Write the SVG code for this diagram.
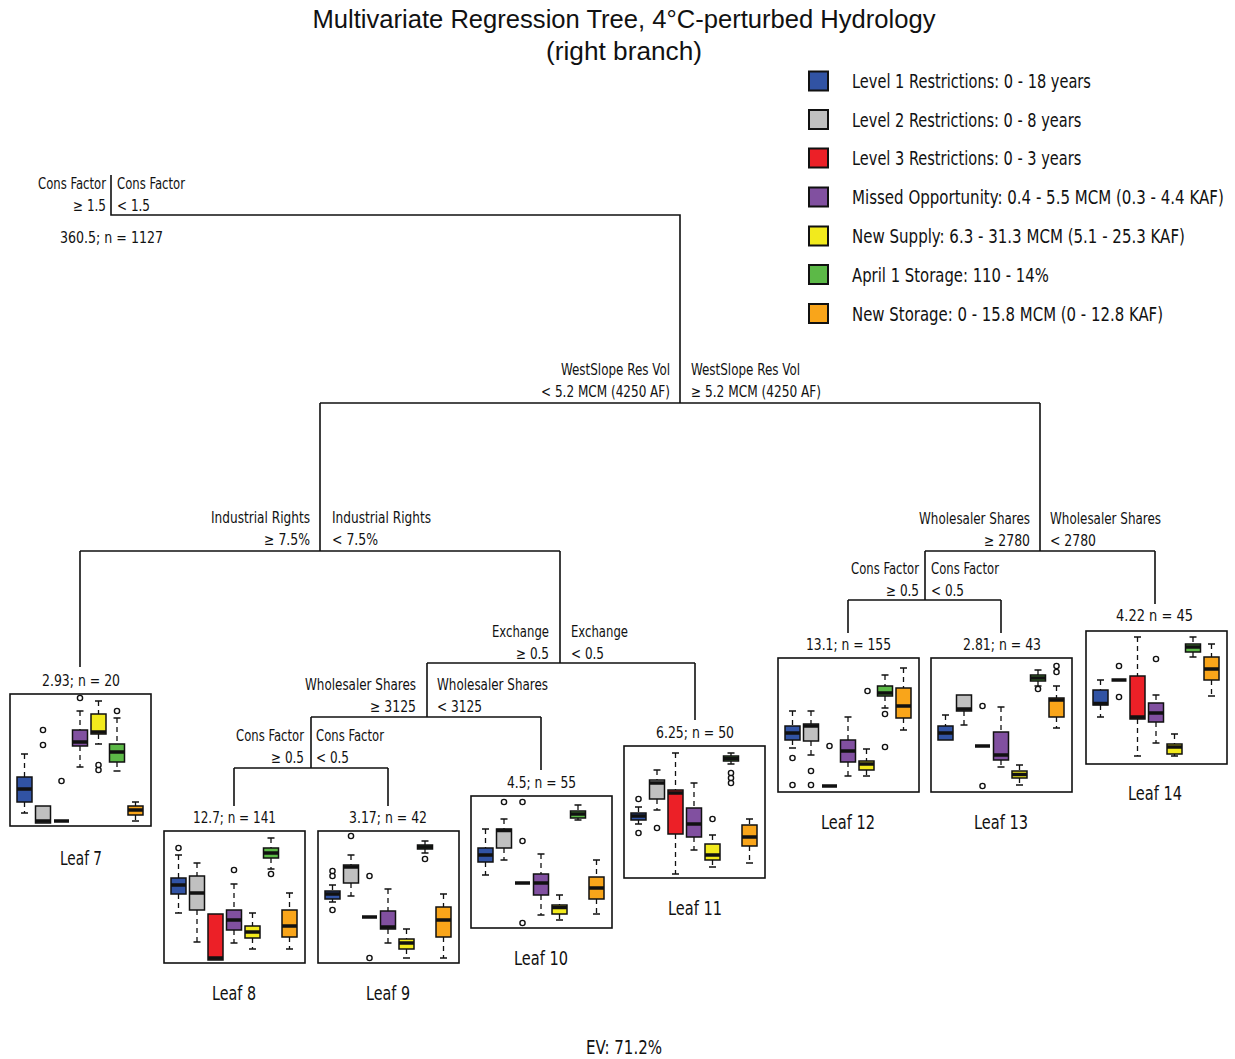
<svg xmlns="http://www.w3.org/2000/svg" width="1235" height="1059" viewBox="0 0 1235 1059">
<style>
text{font-family:"Liberation Sans Narrow","DejaVu Sans Condensed","Liberation Sans",sans-serif;fill:#111}
.ti{font-family:"Liberation Sans",sans-serif;font-size:25px;text-anchor:middle}
.lab{font-size:15.5px}
.r{text-anchor:end}
.c{text-anchor:middle}
.lg{font-size:20px}
.lf{font-size:19px;text-anchor:middle}
.con{fill:none;stroke:#111;stroke-width:1.6}
.fr{fill:#fff;stroke:#111;stroke-width:1.6}
.w{fill:none;stroke:#111;stroke-width:1.3;stroke-dasharray:5 4}
.cp{fill:none;stroke:#111;stroke-width:1.5}
.b{stroke:#111;stroke-width:1.5}
.m{stroke:#111;stroke-width:3.5}
.o{fill:none;stroke:#111;stroke-width:1.4}
.sq{stroke:#111;stroke-width:2}
.L1{fill:#3153a4}.L2{fill:#c0c0c0}.L3{fill:#ec2027}.MO{fill:#8150a0}.NS{fill:#f2ea1d}.AS{fill:#5cb947}.ST{fill:#f9a51a}
</style>
<defs>
<circle id="o" r="2.6" class="o"/>
</defs>
<rect width="1235" height="1059" fill="#fff"/>
<g id="title">
<text class="ti" x="624" y="28" textLength="623" lengthAdjust="spacingAndGlyphs">Multivariate Regression Tree, 4°C-perturbed Hydrology</text>
<text class="ti" x="624" y="60" textLength="156" lengthAdjust="spacingAndGlyphs">(right branch)</text>
</g>
<g id="legend">
<rect class="sq L1" x="809" y="71.5" width="19" height="19"/><text class="lg" transform="translate(852,88) scale(0.81,1)" textLength="295" lengthAdjust="spacingAndGlyphs">Level 1 Restrictions: 0 - 18 years</text>
<rect class="sq L2" x="809" y="110" width="19" height="19"/><text class="lg" transform="translate(852,126.5) scale(0.81,1)" textLength="283" lengthAdjust="spacingAndGlyphs">Level 2 Restrictions: 0 - 8 years</text>
<rect class="sq L3" x="809" y="148.5" width="19" height="19"/><text class="lg" transform="translate(852,165) scale(0.81,1)" textLength="283" lengthAdjust="spacingAndGlyphs">Level 3 Restrictions: 0 - 3 years</text>
<rect class="sq MO" x="809" y="187.5" width="19" height="19"/><text class="lg" transform="translate(852,204) scale(0.81,1)" textLength="459" lengthAdjust="spacingAndGlyphs">Missed Opportunity: 0.4 - 5.5 MCM (0.3 - 4.4 KAF)</text>
<rect class="sq NS" x="809" y="226.5" width="19" height="19"/><text class="lg" transform="translate(852,243) scale(0.81,1)" textLength="411" lengthAdjust="spacingAndGlyphs">New Supply: 6.3 - 31.3 MCM (5.1 - 25.3 KAF)</text>
<rect class="sq AS" x="809" y="265" width="19" height="19"/><text class="lg" transform="translate(852,281.5) scale(0.81,1)" textLength="243" lengthAdjust="spacingAndGlyphs">April 1 Storage: 110 - 14%</text>
<rect class="sq ST" x="809" y="304" width="19" height="19"/><text class="lg" transform="translate(852,320.5) scale(0.81,1)" textLength="384" lengthAdjust="spacingAndGlyphs">New Storage: 0 - 15.8 MCM (0 - 12.8 KAF)</text>
</g>
<g id="connectors">
<path class="con" d="M111 175V215H680V403M320 403H1040M320 403V551M80 551H560M80 551V667M560 551V663M427 663H695M695 663V720M427 663V717M311 717H541M541 717V770M311 717V768M234 768H388M234 768V806M388 768V806M1040 403V551M925 551H1155M1155 551V604M925 551V600M848 600H1001M848 600V633M1001 600V633"/>
</g>
<g id="split-root">
<text class="lab r" x="106" y="189" textLength="68" lengthAdjust="spacingAndGlyphs">Cons Factor</text><text class="lab r" x="106" y="211" textLength="33" lengthAdjust="spacingAndGlyphs">≥ 1.5</text>
<text class="lab" x="117" y="189" textLength="68" lengthAdjust="spacingAndGlyphs">Cons Factor</text><text class="lab" x="117" y="211" textLength="33" lengthAdjust="spacingAndGlyphs">&lt; 1.5</text>
<text class="lab" x="60" y="243" textLength="103" lengthAdjust="spacingAndGlyphs">360.5; n = 1127</text>
</g>
<g id="split-westslope">
<text class="lab r" x="670" y="375" textLength="109" lengthAdjust="spacingAndGlyphs">WestSlope Res Vol</text><text class="lab r" x="670" y="397" textLength="129" lengthAdjust="spacingAndGlyphs">&lt; 5.2 MCM (4250 AF)</text>
<text class="lab" x="691" y="375" textLength="109" lengthAdjust="spacingAndGlyphs">WestSlope Res Vol</text><text class="lab" x="691" y="397" textLength="130" lengthAdjust="spacingAndGlyphs">≥ 5.2 MCM (4250 AF)</text>
</g>
<g id="split-industrial">
<text class="lab r" x="310" y="523" textLength="99" lengthAdjust="spacingAndGlyphs">Industrial Rights</text><text class="lab r" x="310" y="545" textLength="46" lengthAdjust="spacingAndGlyphs">≥ 7.5%</text>
<text class="lab" x="332" y="523" textLength="99" lengthAdjust="spacingAndGlyphs">Industrial Rights</text><text class="lab" x="332" y="545" textLength="46" lengthAdjust="spacingAndGlyphs">&lt; 7.5%</text>
</g>
<g id="split-exchange">
<text class="lab r" x="549" y="637" textLength="57" lengthAdjust="spacingAndGlyphs">Exchange</text><text class="lab r" x="549" y="659" textLength="33" lengthAdjust="spacingAndGlyphs">≥ 0.5</text>
<text class="lab" x="571" y="637" textLength="57" lengthAdjust="spacingAndGlyphs">Exchange</text><text class="lab" x="571" y="659" textLength="33" lengthAdjust="spacingAndGlyphs">&lt; 0.5</text>
</g>
<g id="split-wholesaler-left">
<text class="lab r" x="416" y="690" textLength="111" lengthAdjust="spacingAndGlyphs">Wholesaler Shares</text><text class="lab r" x="416" y="712" textLength="46" lengthAdjust="spacingAndGlyphs">≥ 3125</text>
<text class="lab" x="437" y="690" textLength="111" lengthAdjust="spacingAndGlyphs">Wholesaler Shares</text><text class="lab" x="437" y="712" textLength="45" lengthAdjust="spacingAndGlyphs">&lt; 3125</text>
</g>
<g id="split-cons-left">
<text class="lab r" x="304" y="741" textLength="68" lengthAdjust="spacingAndGlyphs">Cons Factor</text><text class="lab r" x="304" y="763" textLength="33" lengthAdjust="spacingAndGlyphs">≥ 0.5</text>
<text class="lab" x="316" y="741" textLength="68" lengthAdjust="spacingAndGlyphs">Cons Factor</text><text class="lab" x="316" y="763" textLength="33" lengthAdjust="spacingAndGlyphs">&lt; 0.5</text>
</g>
<g id="split-wholesaler-right">
<text class="lab r" x="1030" y="524" textLength="111" lengthAdjust="spacingAndGlyphs">Wholesaler Shares</text><text class="lab r" x="1030" y="546" textLength="46" lengthAdjust="spacingAndGlyphs">≥ 2780</text>
<text class="lab" x="1050" y="524" textLength="111" lengthAdjust="spacingAndGlyphs">Wholesaler Shares</text><text class="lab" x="1050" y="546" textLength="46" lengthAdjust="spacingAndGlyphs">&lt; 2780</text>
</g>
<g id="split-cons-right">
<text class="lab r" x="919" y="574" textLength="68" lengthAdjust="spacingAndGlyphs">Cons Factor</text><text class="lab r" x="919" y="596" textLength="33" lengthAdjust="spacingAndGlyphs">≥ 0.5</text>
<text class="lab" x="931" y="574" textLength="68" lengthAdjust="spacingAndGlyphs">Cons Factor</text><text class="lab" x="931" y="596" textLength="33" lengthAdjust="spacingAndGlyphs">&lt; 0.5</text>
</g>

<g id="leaf7">
<text class="lab c" x="81" y="686" textLength="78" lengthAdjust="spacingAndGlyphs">2.93; n = 20</text>
<g transform="translate(10,694)">
<rect class="fr" width="141" height="132"/>
<path class="w" d="M14.5 60V83M14.5 108V119M70 17V36M70 52V73M88.5 7V20M88.5 40V50M107 24V50M107 68V77M125.5 108V112M125.5 121V127"/>
<path class="cp" d="M11 60h7M11 119h7M66.5 17h7M66.5 73h7M85 7h7M85 50h7M103.5 24h7M103.5 77h7M122 108h7M122 127h7"/>
<rect class="b L1" x="7" y="83" width="15" height="25"/>
<rect class="b L2" x="25.5" y="112" width="15" height="17"/>
<rect class="b MO" x="62.5" y="36" width="15" height="16"/>
<rect class="b NS" x="81" y="20" width="15" height="20"/>
<rect class="b AS" x="99.5" y="50" width="15" height="18"/>
<rect class="b ST" x="118" y="112" width="15" height="9"/>
<path class="m" d="M7 95h15M25.5 127h15M44 127h15M62.5 48h15M81 38h15M99.5 58h15M118 116h15"/>
<use href="#o" x="33" y="36"/><use href="#o" x="33" y="51"/><use href="#o" x="51.5" y="87"/><use href="#o" x="70" y="4"/><use href="#o" x="88.5" y="71"/><use href="#o" x="88.5" y="76"/><use href="#o" x="107" y="17"/>
</g>
<text class="lf" x="81" y="865" textLength="42" lengthAdjust="spacingAndGlyphs">Leaf 7</text>
</g>

<g id="leaf8">
<text class="lab c" x="234.5" y="823" textLength="83" lengthAdjust="spacingAndGlyphs">12.7; n = 141</text>
<g transform="translate(164,831)">
<rect class="fr" width="141" height="132"/>
<path class="w" d="M14.5 24V47M14.5 63V82M33 32V45M33 79V111M70 53V79M70 99V112M88.5 82V95M88.5 107V118M107 7V17M107 27V38M125.5 62V79M125.5 106V118"/>
<path class="cp" d="M11 24h7M11 82h7M29.5 32h7M29.5 111h7M66.5 53h7M66.5 112h7M85 82h7M85 118h7M103.5 7h7M103.5 38h7M122 62h7M122 118h7"/>
<rect class="b L1" x="7" y="47" width="15" height="16"/>
<rect class="b L2" x="25.5" y="45" width="15" height="34"/>
<rect class="b L3" x="44" y="83" width="15" height="46"/>
<rect class="b MO" x="62.5" y="79" width="15" height="20"/>
<rect class="b NS" x="81" y="95" width="15" height="12"/>
<rect class="b AS" x="99.5" y="17" width="15" height="10"/>
<rect class="b ST" x="118" y="79" width="15" height="27"/>
<path class="m" d="M7 54h15M25.5 62h15M44 127h15M62.5 89h15M81 101h15M99.5 22h15M118 95h15"/>
<use href="#o" x="14.5" y="17"/><use href="#o" x="70" y="39"/><use href="#o" x="107" y="43"/>
</g>
<text class="lf" x="234" y="1000" textLength="44" lengthAdjust="spacingAndGlyphs">Leaf 8</text>
</g>

<g id="leaf9">
<text class="lab c" x="388" y="823" textLength="78" lengthAdjust="spacingAndGlyphs">3.17; n = 42</text>
<g transform="translate(318,831)">
<rect class="fr" width="141" height="132"/>
<path class="w" d="M14.5 54V60M14.5 68V71M33 24V34M33 52V65M70 58V80M70 98V112M88.5 98V108M88.5 118V127M107 10V14M107 18V22M125.5 63V76M125.5 106V127"/>
<path class="cp" d="M11 54h7M11 71h7M29.5 24h7M29.5 65h7M66.5 58h7M66.5 112h7M85 98h7M85 127h7M103.5 10h7M103.5 22h7M122 63h7M122 127h7"/>
<rect class="b L1" x="7" y="60" width="15" height="8"/>
<rect class="b L2" x="25.5" y="34" width="15" height="18"/>
<rect class="b MO" x="62.5" y="80" width="15" height="18"/>
<rect class="b NS" x="81" y="108" width="15" height="10"/>
<rect class="b AS" x="99.5" y="14" width="15" height="4"/>
<rect class="b ST" x="118" y="76" width="15" height="30"/>
<path class="m" d="M7 63h15M25.5 36h15M44 86h15M62.5 96h15M81 112h15M99.5 16h15M118 89h15"/>
<use href="#o" x="14.5" y="40"/><use href="#o" x="14.5" y="45"/><use href="#o" x="14.5" y="79"/><use href="#o" x="33" y="5"/><use href="#o" x="51.5" y="45"/><use href="#o" x="51.5" y="127"/><use href="#o" x="107" y="28"/>
</g>
<text class="lf" x="388" y="1000" textLength="44" lengthAdjust="spacingAndGlyphs">Leaf 9</text>
</g>

<g id="leaf10">
<text class="lab c" x="541.5" y="788" textLength="69" lengthAdjust="spacingAndGlyphs">4.5; n = 55</text>
<g transform="translate(471,796)">
<rect class="fr" width="141" height="132"/>
<path class="w" d="M14.5 33V52M14.5 66V79M33 23V33M33 52V64M70 58V78M70 99V119M88.5 99V109M88.5 118V124M107 9V15M107 22V24M125.5 64V81M125.5 103V118"/>
<path class="cp" d="M11 33h7M11 79h7M29.5 23h7M29.5 64h7M66.5 58h7M66.5 119h7M85 99h7M85 124h7M103.5 9h7M103.5 24h7M122 64h7M122 118h7"/>
<rect class="b L1" x="7" y="52" width="15" height="14"/>
<rect class="b L2" x="25.5" y="33" width="15" height="19"/>
<rect class="b MO" x="62.5" y="78" width="15" height="21"/>
<rect class="b NS" x="81" y="109" width="15" height="9"/>
<rect class="b AS" x="99.5" y="15" width="15" height="7"/>
<rect class="b ST" x="118" y="81" width="15" height="22"/>
<path class="m" d="M7 59h15M25.5 34.5h15M44 87h15M62.5 87h15M81 111.5h15M99.5 18h15M118 92h15"/>
<use href="#o" x="33" y="6"/><use href="#o" x="51.5" y="6"/><use href="#o" x="51.5" y="45"/><use href="#o" x="51.5" y="127"/>
</g>
<text class="lf" x="541" y="965" textLength="54" lengthAdjust="spacingAndGlyphs">Leaf 10</text>
</g>

<g id="leaf11">
<text class="lab c" x="695" y="738" textLength="78" lengthAdjust="spacingAndGlyphs">6.25; n = 50</text>
<g transform="translate(624,746)">
<rect class="fr" width="141" height="132"/>
<path class="w" d="M14.5 61V67M14.5 74V78M33 24V34M33 53V64M51.5 7V44M51.5 88V128M70 37V62M70 91V104M88.5 89V98M88.5 114V121M107 7V10M107 15V18M125.5 73V79M125.5 100V117"/>
<path class="cp" d="M11 61h7M11 78h7M29.5 24h7M29.5 64h7M48 7h7M48 128h7M66.5 37h7M66.5 104h7M85 89h7M85 121h7M103.5 7h7M103.5 18h7M122 73h7M122 117h7"/>
<rect class="b L1" x="7" y="67" width="15" height="7"/>
<rect class="b L2" x="25.5" y="34" width="15" height="19"/>
<rect class="b L3" x="44" y="44" width="15" height="44"/>
<rect class="b MO" x="62.5" y="62" width="15" height="29"/>
<rect class="b NS" x="81" y="98" width="15" height="16"/>
<rect class="b AS" x="99.5" y="10" width="15" height="5"/>
<rect class="b ST" x="118" y="79" width="15" height="21"/>
<path class="m" d="M7 70h15M25.5 37h15M44 47h15M62.5 78h15M81 109h15M99.5 12.5h15M118 91h15"/>
<use href="#o" x="14.5" y="53"/><use href="#o" x="14.5" y="87"/><use href="#o" x="33" y="82"/><use href="#o" x="88.5" y="73"/><use href="#o" x="107" y="27"/><use href="#o" x="107" y="32"/><use href="#o" x="107" y="37"/>
</g>
<text class="lf" x="695" y="915" textLength="54" lengthAdjust="spacingAndGlyphs">Leaf 11</text>
</g>

<g id="leaf12">
<text class="lab c" x="848.5" y="650" textLength="85" lengthAdjust="spacingAndGlyphs">13.1; n = 155</text>
<g transform="translate(778,658)">
<rect class="fr" width="141" height="134"/>
<path class="w" d="M14.5 53V68M14.5 82V90M33 53V66M33 83V97M70 59V82M70 104V118M88.5 91V103M88.5 112V118M107 17V28M107 38V50M125.5 10V30M125.5 60V72"/>
<path class="cp" d="M11 53h7M11 90h7M29.5 53h7M29.5 97h7M66.5 59h7M66.5 118h7M85 91h7M85 118h7M103.5 17h7M103.5 50h7M122 10h7M122 72h7"/>
<rect class="b L1" x="7" y="68" width="15" height="14"/>
<rect class="b L2" x="25.5" y="66" width="15" height="17"/>
<rect class="b MO" x="62.5" y="82" width="15" height="22"/>
<rect class="b NS" x="81" y="103" width="15" height="9"/>
<rect class="b AS" x="99.5" y="28" width="15" height="10"/>
<rect class="b ST" x="118" y="30" width="15" height="30"/>
<path class="m" d="M7 75h15M25.5 68h15M44 128h15M62.5 93h15M81 106h15M99.5 35h15M118 48h15"/>
<use href="#o" x="14.5" y="100"/><use href="#o" x="14.5" y="127"/><use href="#o" x="33" y="113"/><use href="#o" x="33" y="127"/><use href="#o" x="51.5" y="88"/><use href="#o" x="89.5" y="33"/><use href="#o" x="107" y="56"/><use href="#o" x="107" y="89"/>
</g>
<text class="lf" x="848" y="829" textLength="54" lengthAdjust="spacingAndGlyphs">Leaf 12</text>
</g>

<g id="leaf13">
<text class="lab c" x="1002" y="650" textLength="78" lengthAdjust="spacingAndGlyphs">2.81; n = 43</text>
<g transform="translate(931,658)">
<rect class="fr" width="141" height="134"/>
<path class="w" d="M14.5 57V68M33 53V67M70 49V74M70 102V109M88.5 107V113M88.5 120V127M107 12V17M107 23V28M125.5 28V40M125.5 59V70"/>
<path class="cp" d="M11 57h7M29.5 67h7M66.5 49h7M66.5 109h7M85 107h7M85 127h7M103.5 12h7M103.5 28h7M122 28h7M122 70h7"/>
<rect class="b L1" x="7" y="68" width="15" height="14"/>
<rect class="b L2" x="25.5" y="37" width="15" height="16"/>
<rect class="b MO" x="62.5" y="74" width="15" height="28"/>
<rect class="b NS" x="81" y="113" width="15" height="7"/>
<rect class="b AS" x="99.5" y="17" width="15" height="6"/>
<rect class="b ST" x="118" y="40" width="15" height="19"/>
<path class="m" d="M7 75h15M25.5 51h15M44 88h15M62.5 97h15M81 116.5h15M99.5 20h15M118 42h15"/>
<use href="#o" x="51.5" y="48"/><use href="#o" x="51.5" y="128"/><use href="#o" x="107" y="31"/><use href="#o" x="125.5" y="8"/><use href="#o" x="125.5" y="14"/>
</g>
<text class="lf" x="1001" y="829" textLength="54" lengthAdjust="spacingAndGlyphs">Leaf 13</text>
</g>

<g id="leaf14">
<text class="lab c" x="1154.5" y="621" textLength="77" lengthAdjust="spacingAndGlyphs">4.22 n = 45</text>
<g transform="translate(1086,631)">
<rect class="fr" width="141" height="133"/>
<path class="w" d="M14.5 49V59M14.5 74V86M51.5 6V45M51.5 88V125M70 64V72M70 91V112M88.5 103V113M88.5 123V125M107 6V13M107 21V26M125.5 13V26M125.5 49V65"/>
<path class="cp" d="M11 49h7M11 86h7M48 6h7M48 125h7M66.5 64h7M66.5 112h7M85 103h7M85 125h7M103.5 6h7M103.5 26h7M122 13h7M122 65h7"/>
<rect class="b L1" x="7" y="59" width="15" height="15"/>
<rect class="b L3" x="44" y="45" width="15" height="43"/>
<rect class="b MO" x="62.5" y="72" width="15" height="19"/>
<rect class="b NS" x="81" y="113" width="15" height="10"/>
<rect class="b AS" x="99.5" y="13" width="15" height="8"/>
<rect class="b ST" x="118" y="26" width="15" height="23"/>
<path class="m" d="M7 72.5h15M25.5 49h15M44 86h15M62.5 82h15M81 116h15M99.5 16h15M118 38h15"/>
<use href="#o" x="33" y="35"/><use href="#o" x="33" y="66"/><use href="#o" x="70" y="28"/>
</g>
<text class="lf" x="1155" y="800" textLength="54" lengthAdjust="spacingAndGlyphs">Leaf 14</text>
</g>

<g id="ev">
<text class="lf" x="624" y="1054" textLength="76" lengthAdjust="spacingAndGlyphs">EV: 71.2%</text>
</g>
</svg>
